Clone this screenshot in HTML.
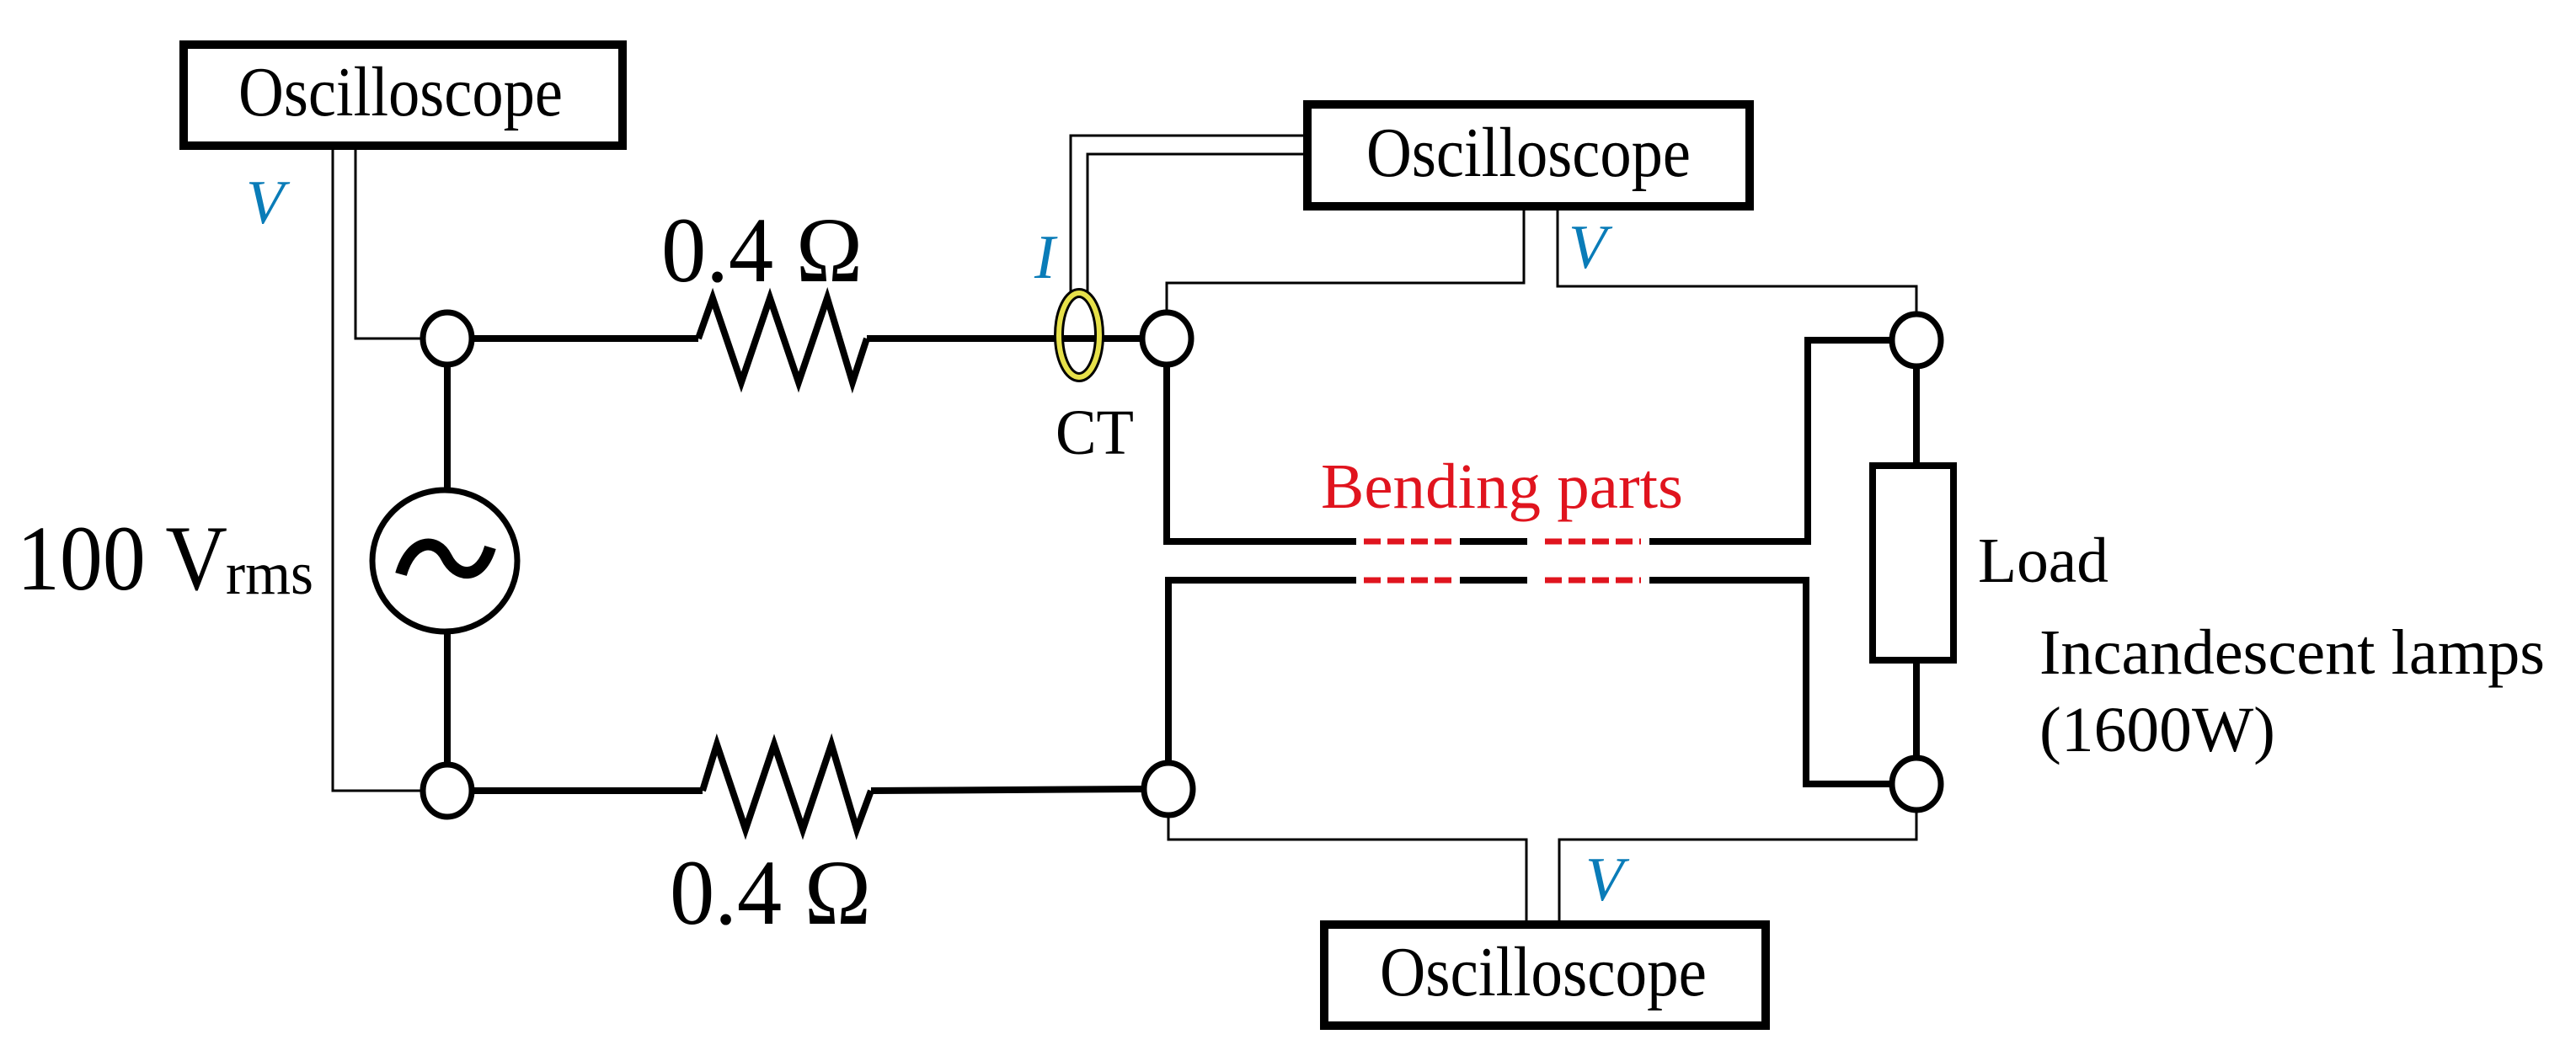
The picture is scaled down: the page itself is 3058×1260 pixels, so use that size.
<!DOCTYPE html>
<html><head><style>html,body{margin:0;padding:0;background:#fff}svg{display:block}text{font-family:"Liberation Serif","Times New Roman",serif}</style></head>
<body>
<svg width="3058" height="1260" viewBox="0 0 3058 1260" xmlns="http://www.w3.org/2000/svg">
<rect width="3058" height="1260" fill="#fff"/>
<g fill="none" stroke="#000" stroke-width="3">
  <polyline points="422,173 422,402 501,402"/>
  <polyline points="395,173 395,939 501,939"/>
  <polyline points="1271,352 1271,161 1552,161"/>
  <polyline points="1291,352 1291,183 1552,183"/>
  <polyline points="1809,245 1809,336 1385,336 1385,372"/>
  <polyline points="1849,245 1849,340 2275,340 2275,374"/>
  <polyline points="1812,1093 1812,997 1387,997 1387,967"/>
  <polyline points="1851,1093 1851,997 2275,997 2275,961"/>
</g>
<g fill="none" stroke="#000" stroke-width="8">
  <line x1="560" y1="402" x2="829" y2="402"/>
  <polyline points="829,402 846,354 880,454 914,354 948,454 982,354 1012,454 1029,402"/>
  <line x1="1029" y1="402" x2="1354" y2="402"/>
  <line x1="560" y1="939" x2="834" y2="939"/>
  <polyline points="834,939 851,884 885,985 919,884 953,985 987,884 1017,985 1034,939"/>
  <line x1="1034" y1="939" x2="1356" y2="937"/>
  <line x1="531" y1="432" x2="531" y2="581"/>
  <line x1="531" y1="751" x2="531" y2="909"/>
  <polyline points="1385,432 1385,643 1610,643"/>
  <polyline points="1610,689 1387,689 1387,907"/>
  <line x1="1733" y1="643" x2="1813" y2="643"/>
  <line x1="1733" y1="689" x2="1813" y2="689"/>
  <polyline points="1958,643 2146,643 2146,404 2245,404"/>
  <polyline points="1958,689 2144,689 2144,931 2245,931"/>
  <line x1="2275" y1="434" x2="2275" y2="553"/>
  <line x1="2275" y1="784" x2="2275" y2="901"/>
  <rect x="2223" y="553" width="96" height="231"/>
</g>
<g stroke="#e0141e" stroke-width="7" stroke-dasharray="20,8" fill="none">
  <line x1="1619" y1="643" x2="1729" y2="643"/>
  <line x1="1619" y1="689" x2="1729" y2="689"/>
  <line x1="1834" y1="643" x2="1948" y2="643"/>
  <line x1="1834" y1="689" x2="1948" y2="689"/>
</g>
<g fill="#fff" stroke="#000" stroke-width="7">
  <ellipse cx="531" cy="402" rx="29" ry="31"/>
  <ellipse cx="531" cy="939" rx="29" ry="31"/>
  <ellipse cx="1385" cy="402" rx="29" ry="31"/>
  <ellipse cx="1387" cy="937" rx="29" ry="31"/>
  <ellipse cx="2275" cy="404" rx="29" ry="31"/>
  <ellipse cx="2275" cy="931" rx="29" ry="31"/>
  <ellipse cx="528" cy="666" rx="86" ry="84"/>
</g>
<path d="M476,682 C488,640 518,638 530,662 C542,686 570,690 582,650" fill="none" stroke="#000" stroke-width="14"/>
<ellipse cx="1281" cy="398" rx="24" ry="50" fill="none" stroke="#000" stroke-width="12"/>
<ellipse cx="1281" cy="398" rx="24" ry="50" fill="none" stroke="#e6e04a" stroke-width="6"/>
<g fill="#fff" stroke="#000" stroke-width="10">
  <rect x="218" y="53" width="521" height="120"/>
  <rect x="1552" y="124" width="525" height="121"/>
  <rect x="1572" y="1098" width="524" height="120"/>
</g>
<g font-size="84" fill="#000">
  <text x="283" y="137" textLength="385" lengthAdjust="spacingAndGlyphs">Oscilloscope</text>
  <text x="1622" y="209" textLength="385" lengthAdjust="spacingAndGlyphs">Oscilloscope</text>
  <text x="1638" y="1182" textLength="388" lengthAdjust="spacingAndGlyphs">Oscilloscope</text>
</g>
<g font-size="74" fill="#0a7cb8" font-style="italic">
  <text x="292" y="265">V</text>
  <text x="1228" y="330">I</text>
  <text x="1862" y="318">V</text>
  <text x="1882" y="1069">V</text>
</g>
<g font-size="110" fill="#000">
  <text x="785" y="334" textLength="239" lengthAdjust="spacingAndGlyphs">0.4 Ω</text>
  <text x="795" y="1097" textLength="239" lengthAdjust="spacingAndGlyphs">0.4 Ω</text>
  <text x="20" y="700" textLength="250" lengthAdjust="spacingAndGlyphs">100 V</text>
</g>
<text x="268" y="705" font-size="72" fill="#000" textLength="104" lengthAdjust="spacingAndGlyphs">rms</text>
<text x="1253" y="539" font-size="76" fill="#000" textLength="93" lengthAdjust="spacingAndGlyphs">CT</text>
<text x="1568" y="603" font-size="76" fill="#e0141e" textLength="430" lengthAdjust="spacingAndGlyphs">Bending parts</text>
<g font-size="76" fill="#000">
  <text x="2348" y="691" textLength="155" lengthAdjust="spacingAndGlyphs">Load</text>
  <text x="2421" y="800" textLength="600" lengthAdjust="spacingAndGlyphs">Incandescent  lamps</text>
  <text x="2421" y="892" textLength="280" lengthAdjust="spacingAndGlyphs">(1600W)</text>
</g>
</svg>
</body></html>
